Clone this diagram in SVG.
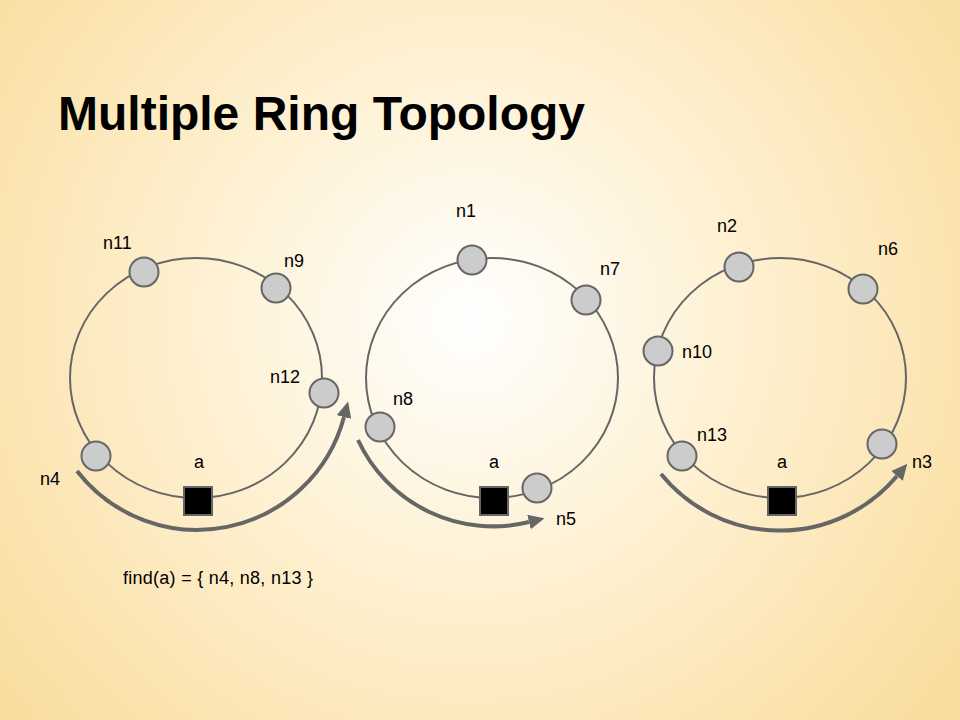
<svg xmlns="http://www.w3.org/2000/svg" width="960" height="720" viewBox="0 0 960 720">
  <defs>
    <radialGradient id="bg" cx="470" cy="320" r="620" gradientUnits="userSpaceOnUse">
      <stop offset="0" stop-color="#FFFFFF"/>
      <stop offset="0.45" stop-color="#FEF0D0"/>
      <stop offset="1" stop-color="#F9DC9C"/>
    </radialGradient>
    <marker id="ah" markerUnits="userSpaceOnUse" markerWidth="17" markerHeight="15" refX="0" refY="7.5" orient="auto">
      <path d="M0,0 L16,7.5 L0,15 Z" fill="#666666"/>
    </marker>
    <style>
      .ring { fill: none; stroke: #666666; stroke-width: 2; }
      .node { fill: #CCCCCC; stroke: #666666; stroke-width: 2; }
      .key { fill: #000000; stroke: #666666; stroke-width: 2; }
      .arc { fill: none; stroke: #666666; stroke-width: 4; marker-end: url(#ah); }
      .lbl { font-family: "Liberation Sans", Arial, sans-serif; font-size: 18px; fill: #000000; }
      .title { font-family: "Liberation Sans", Arial, sans-serif; font-size: 48px; font-weight: bold; fill: #000000; }
    </style>
  </defs>
  <rect x="0" y="0" width="960" height="720" fill="url(#bg)"/>
  <text class="title" x="58" y="130">Multiple Ring Topology</text>

  <g id="rings">
    <ellipse class="ring" cx="196" cy="378" rx="126" ry="120"/>
    <ellipse class="ring" cx="492" cy="378" rx="126" ry="120"/>
    <ellipse class="ring" cx="780" cy="378" rx="126" ry="120"/>
  </g>

  <g id="connectors">
    <path class="arc" d="M77,471 A152,152 0 0 0 344,417"/>
    <path class="arc" d="M358,440 A149,149 0 0 0 529,522"/>
    <path class="arc" d="M661,474 A153,153 0 0 0 897,476"/>
  </g>

  <g id="ring1">
    <g id="n11"><circle class="node" cx="144" cy="272" r="14.5"/><text class="lbl" x="103" y="249">n11</text></g>
    <g id="n9"><circle class="node" cx="276" cy="288" r="14.5"/><text class="lbl" x="284" y="267">n9</text></g>
    <g id="n12"><circle class="node" cx="324" cy="393" r="14.5"/><text class="lbl" x="270" y="383">n12</text></g>
    <g id="n4"><circle class="node" cx="96" cy="456" r="14.5"/><text class="lbl" x="40" y="485">n4</text></g>
    <g id="a1"><rect class="key" x="184" y="487" width="28" height="28"/><text class="lbl" x="199" y="468" text-anchor="middle">a</text></g>
  </g>

  <g id="ring2">
    <g id="n1"><circle class="node" cx="472" cy="260" r="14.5"/><text class="lbl" x="456" y="217">n1</text></g>
    <g id="n7"><circle class="node" cx="586" cy="300" r="14.5"/><text class="lbl" x="600" y="275">n7</text></g>
    <g id="n8"><circle class="node" cx="380" cy="427" r="14.5"/><text class="lbl" x="393" y="405">n8</text></g>
    <g id="n5"><circle class="node" cx="537" cy="488" r="14.5"/><text class="lbl" x="556" y="525">n5</text></g>
    <g id="a2"><rect class="key" x="480" y="487" width="28" height="28"/><text class="lbl" x="494" y="468" text-anchor="middle">a</text></g>
  </g>

  <g id="ring3">
    <g id="n2"><circle class="node" cx="739" cy="267" r="14.5"/><text class="lbl" x="717" y="232">n2</text></g>
    <g id="n6"><circle class="node" cx="863" cy="289" r="14.5"/><text class="lbl" x="878" y="255">n6</text></g>
    <g id="n10"><circle class="node" cx="658" cy="351" r="14.5"/><text class="lbl" x="682" y="358">n10</text></g>
    <g id="n13"><circle class="node" cx="682" cy="456" r="14.5"/><text class="lbl" x="697" y="441">n13</text></g>
    <g id="n3"><circle class="node" cx="882" cy="444" r="14.5"/><text class="lbl" x="912" y="468">n3</text></g>
    <g id="a3"><rect class="key" x="768" y="487" width="28" height="28"/><text class="lbl" x="782" y="468" text-anchor="middle">a</text></g>
  </g>

  <text class="lbl" x="123" y="584" textLength="190" lengthAdjust="spacing">find(a) = { n4, n8, n13 }</text>
</svg>
